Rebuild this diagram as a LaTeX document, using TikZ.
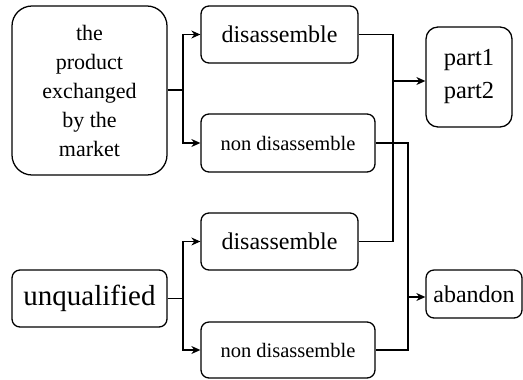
\documentclass[tikz,border=0pt]{standalone}
\usepackage{fontspec}
\setmainfont{Liberation Serif}
\newfontfamily\boxfont{Liberation Serif}
\usetikzlibrary{arrows.meta}
\tikzset{
  box/.style={draw, line width=0.045cm, rounded corners=8pt, align=center, inner sep=0pt},
  flow/.style={line width=0.045cm},
  flowarrow/.style={flow, -{Stealth[length=9pt,width=8pt]}}
}
\begin{document}
\begin{tikzpicture}[x=1pt,y=-1pt]
                \useasboundingbox (0,0) rectangle (523,380);

                % Drawing the left boxes
                \node [box, rounded corners=20pt, minimum width=155pt, minimum height=169pt,
                       font=\boxfont\fontsize{22}{29}\selectfont] (market) at (89.5,90.5)
                      {the\\product\\exchanged\\by the\\market};%
                \node [box, minimum width=155pt, minimum height=57pt,
                       font=\boxfont\fontsize{29}{33}\selectfont] (unqual) at (89.5,298.5) {unqualified};%

                % Drawing the middle boxes
                \node [box, minimum width=157pt, minimum height=57pt,
                       font=\boxfont\fontsize{24}{28}\selectfont] (dis1) at (279.5,34.5) {disassemble};%
                \node [box, minimum width=174pt, minimum height=58pt,
                       font=\boxfont\fontsize{20.5}{24}\selectfont] (non1) at (288,143) {non disassemble};%
                \node [box, minimum width=157pt, minimum height=57pt,
                       font=\boxfont\fontsize{24}{28}\selectfont] (dis2) at (279.5,241.5) {disassemble};%
                \node [box, minimum width=174pt, minimum height=56pt,
                       font=\boxfont\fontsize{20.5}{24}\selectfont] (non2) at (288,350) {non disassemble};%

                % Drawing the right boxes
                \node [box, rounded corners=12pt, minimum width=86pt, minimum height=100pt,
                       font=\boxfont\fontsize{24.5}{33}\selectfont] (parts) at (469,77) {part1\\part2};%
                \node [box, minimum width=96pt, minimum height=48pt,
                       font=\boxfont\fontsize{24}{28}\selectfont] (aband) at (474,294) {abandon};%

                % Drawing the split of market
                \coordinate (sm) at (183,90);
                \draw [flow] (market.east |- sm) -- (sm);%
                \draw [flowarrow] (sm) |- (dis1.west);%
                \draw [flowarrow] (sm) |- (non1.west);%

                % Drawing the split of unqualified
                \coordinate (su) at (183,298.5);
                \draw [flow] (unqual.east) -- (su);%
                \draw [flowarrow] (su) |- (dis2.west);%
                \draw [flowarrow] (su) |- (non2.west);%

                % Drawing the join to parts
                \coordinate (jp) at (393,81);
                \draw [flow] (dis1.east) -| (jp) |- (dis2.east);%
                \draw [flowarrow] (jp) -- (jp -| parts.west);%

                % Drawing the join to abandon
                \coordinate (ja) at (408,297);
                \draw [flow] (non1.east) -| (ja) |- (non2.east);%
                \draw [flowarrow] (ja) -- (ja -| aband.west);%
\end{tikzpicture}
\end{document}
